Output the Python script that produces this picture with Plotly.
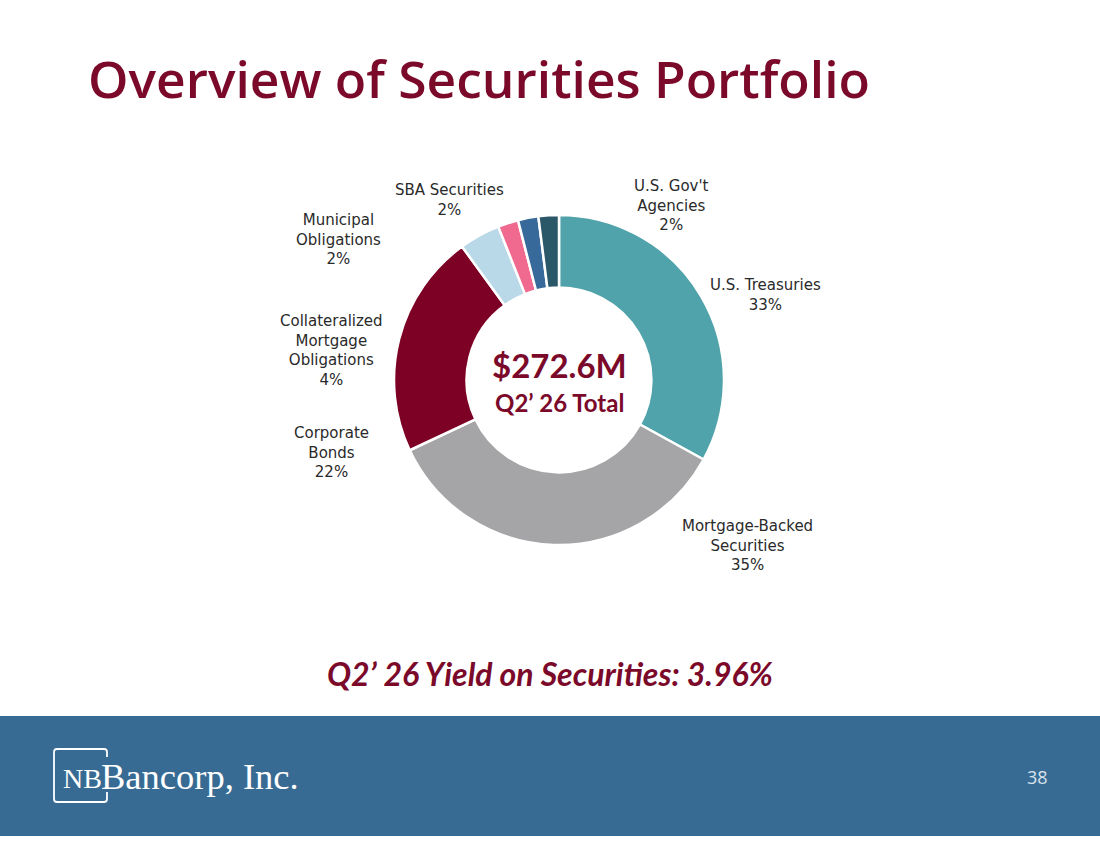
import plotly.graph_objects as go

categories = ["U.S. Treasuries", "Mortgage-Backed Securities", "Corporate Bonds",
              "Collateralized Mortgage Obligations", "Municipal Obligations",
              "SBA Securities", "U.S. Gov't Agencies"]
values = [33, 35, 22, 4, 2, 2, 2]
label_texts = ["U.S. Treasuries<br>33%", "Mortgage-Backed<br>Securities<br>35%",
               "Corporate<br>Bonds<br>22%", "Collateralized<br>Mortgage<br>Obligations<br>4%",
               "Municipal<br>Obligations<br>2%", "SBA Securities<br>2%",
               "U.S. Gov't<br>Agencies<br>2%"]
colors = ["#50A3AA", "#A5A5A7", "#7D0025", "#B9D8E8", "#F06A90", "#37699A", "#2A5868"]

W, H = 1100, 849
DARK_RED = "#7B0A2A"

def px(x):
    return x / W

def py(y):
    return 1 - y / H

cx, cy, r = 559, 380, 165

fig = go.Figure(go.Pie(
    labels=categories, values=values, sort=False, direction="clockwise",
    hole=0.56, marker=dict(colors=colors, line=dict(color="white", width=2.5)),
    textinfo="none", hoverinfo="label+percent", showlegend=False,
    domain=dict(x=[px(cx - r), px(cx + r)], y=[py(cy + r), py(cy - r)]),
))

# label positions (center x, middle y) in pixels
label_pos = [(765, 295), (747, 545), (331, 452), (331, 350), (338, 239), (449, 200), (671, 206)]
annotations = []
for t, (x, y) in zip(label_texts, label_pos):
    annotations.append(dict(x=px(x), y=py(y), xref="paper", yref="paper", text=t,
                            showarrow=False, xanchor="center", yanchor="middle",
                            font=dict(family="DejaVu Sans", size=15, color="#2A2A2A"),
                            align="center"))

annotations += [
    dict(x=px(86), y=py(78), xref="paper", yref="paper", text="Overview of Securities Portfolio",
         showarrow=False, xanchor="left", yanchor="middle",
         font=dict(family="Open Sans", size=51.5, color=DARK_RED, weight=600)),
    dict(x=px(559), y=py(365), xref="paper", yref="paper", text="<b>$272.6M</b>",
         showarrow=False, xanchor="center", yanchor="middle",
         font=dict(family="Lato", size=33, color=DARK_RED)),
    dict(x=px(560), y=py(402), xref="paper", yref="paper", text="<b>Q2’ 26 Total</b>",
         showarrow=False, xanchor="center", yanchor="middle",
         font=dict(family="Lato", size=24, color=DARK_RED)),
    dict(x=px(550), y=py(673), xref="paper", yref="paper",
         text="<b><i>Q2’ 26 Yield on Securities: 3.96%</i></b>",
         showarrow=False, xanchor="center", yanchor="middle",
         font=dict(family="Lato", size=32, color=DARK_RED)),
    dict(x=px(61), y=py(778), xref="paper", yref="paper", text="NB",
         showarrow=False, xanchor="left", yanchor="middle",
         font=dict(family="Liberation Serif", size=28, color="white")),
    dict(x=px(99), y=py(776), xref="paper", yref="paper", text="Bancorp, Inc.",
         showarrow=False, xanchor="left", yanchor="middle",
         font=dict(family="Liberation Serif", size=36.5, color="white")),
    dict(x=px(1037), y=py(777), xref="paper", yref="paper", text="38",
         showarrow=False, xanchor="center", yanchor="middle",
         font=dict(family="Open Sans", size=18, color="#D8E2EC")),
]

# logo frame with a gap on its right side where the "B" of Bancorp overlaps
def P(x, y):
    return f"{px(x):.5f},{py(y):.5f}"

logo_path = ("M " + P(107, 757) + " L " + P(107, 752) + " Q " + P(107, 749) + " " + P(104, 749)
             + " L " + P(57, 749) + " Q " + P(54, 749) + " " + P(54, 752)
             + " L " + P(54, 799) + " Q " + P(54, 802) + " " + P(57, 802)
             + " L " + P(104, 802) + " Q " + P(107, 802) + " " + P(107, 799)
             + " L " + P(107, 792))

shapes = [
    dict(type="rect", xref="paper", yref="paper", x0=0, x1=1, y0=py(836), y1=py(716),
         fillcolor="#386B94", line=dict(width=0), layer="below"),
    dict(type="path", xref="paper", yref="paper", path=logo_path,
         line=dict(color="white", width=1.8)),
]

fig.update_layout(width=W, height=H, margin=dict(l=0, r=0, t=0, b=0),
                  paper_bgcolor="white", plot_bgcolor="white",
                  annotations=annotations, shapes=shapes)

fig.write_html("out.html")
